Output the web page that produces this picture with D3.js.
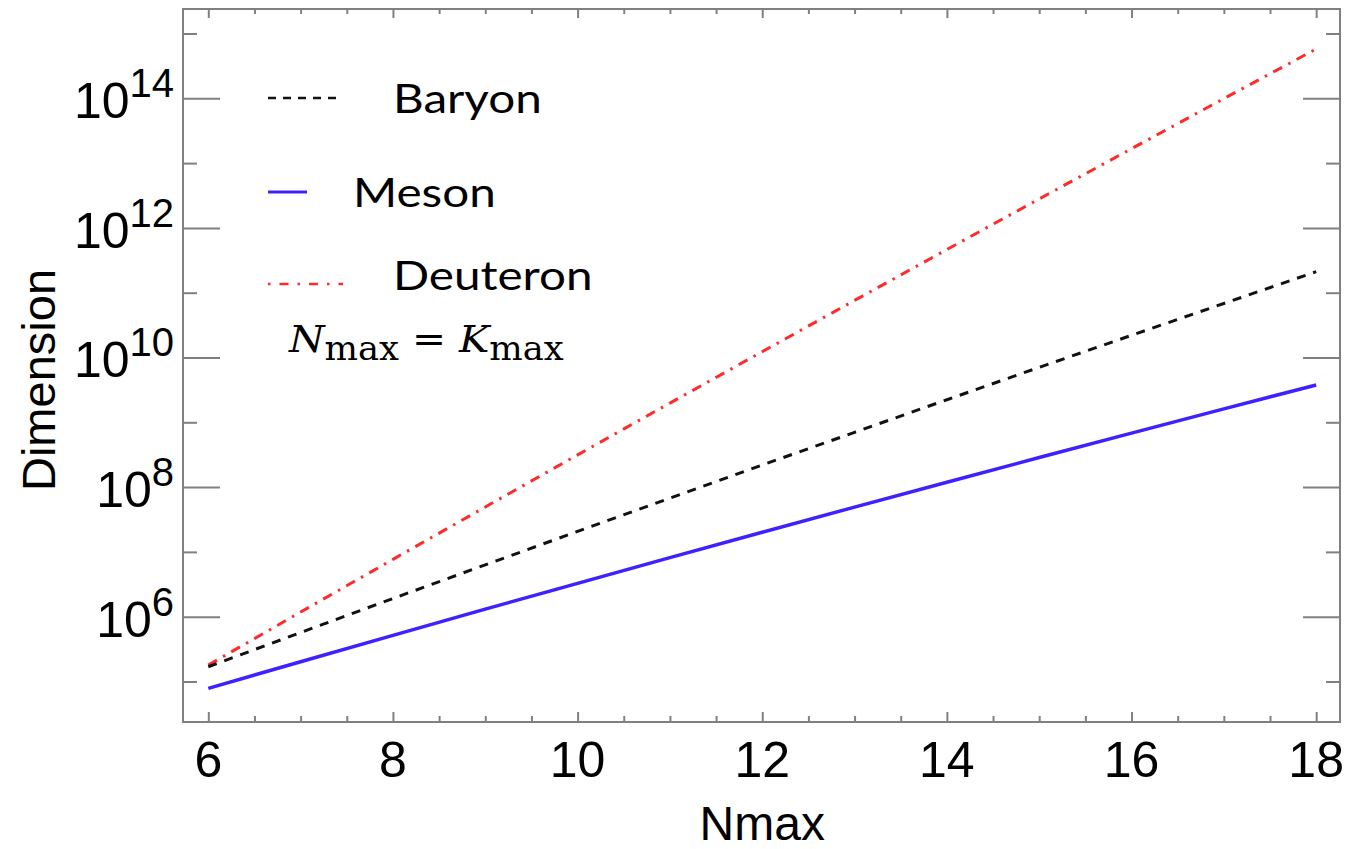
<!DOCTYPE html>
<html>
<head>
<meta charset="utf-8">
<script src="https://cdn.jsdelivr.net/npm/d3@7"></script>
<style>
  body { margin: 0; background: #fff; }
  text { fill: #000; }
</style>
</head>
<body>
<div id="container"></div>
<script>
// values (dimension vs Nmax, log scale)
const nmax = [6, 7, 8, 9, 10, 11, 12, 13, 14, 15, 16, 17, 18];
const meson = [7.85e4, 2.02e5, 5.15e5, 1.31e6, 3.27e6, 8.15e6, 2.01e7, 4.91e7, 1.19e8, 2.86e8, 6.81e8, 1.61e9, 3.77e9];
const baryon = [1.69e5, 5.7e5, 1.91e6, 6.31e6, 2.07e7, 6.76e7, 2.19e8, 7.01e8, 2.23e9, 7.05e9, 2.2e10, 6.82e10, 2.11e11];
const deuteron = [1.79e5, 1.18e6, 7.67e6, 4.93e7, 3.14e8, 1.98e9, 1.23e10, 7.6e10, 4.64e11, 2.8e12, 1.67e13, 9.89e13, 5.77e14];

const xTicks = [6, 8, 10, 12, 14, 16, 18];
const yExponents = [6, 8, 10, 12, 14];
const yMinorExponents = [5, 7, 9, 11, 13, 15];

const legendNames = ["Baryon", "Meson", "Deuteron"];

// set the dimensions and margins of the graph
var margin = { top: 9, right: 8, bottom: 127, left: 183 },
  width = 1348 - margin.left - margin.right,
  height = 849 - margin.top - margin.bottom;

var svg = d3
  .select("#container")
  .append("svg")
  .attr("width", width + margin.left + margin.right)
  .attr("height", height + margin.top + margin.bottom)
  .append("g")
  .attr("transform", "translate(" + margin.left + "," + margin.top + ")");

var x = d3.scaleLinear().domain([5.726, 18.258]).range([0, width]);
var y = d3.scaleLog().domain([Math.pow(10, 4.375), Math.pow(10, 15.378)]).range([height, 0]);

var frameColor = "#808080";

// minor x ticks every 0.5
var xMinor = d3.range(6, 18.01, 0.5).filter((v) => v % 2 !== 0);

function styleAxis(g) {
  g.select(".domain").remove();
  g.selectAll("line").attr("stroke", frameColor).attr("stroke-width", 2);
}

// bottom axis
svg.append("g")
  .attr("transform", "translate(0," + height + ")")
  .call(d3.axisBottom(x).tickValues(xTicks).tickSize(-10).tickFormat(""))
  .call(styleAxis);
svg.append("g")
  .attr("transform", "translate(0," + height + ")")
  .call(d3.axisBottom(x).tickValues(xMinor).tickSize(-6).tickFormat(""))
  .call(styleAxis);
// top axis
svg.append("g")
  .call(d3.axisTop(x).tickValues(xTicks).tickSize(-9).tickFormat(""))
  .call(styleAxis);
svg.append("g")
  .call(d3.axisTop(x).tickValues(xMinor).tickSize(-5).tickFormat(""))
  .call(styleAxis);

var yMajor = yExponents.map((e) => Math.pow(10, e));
var yMinor = yMinorExponents.map((e) => Math.pow(10, e));

// left axis
svg.append("g")
  .call(d3.axisLeft(y).tickValues(yMajor).tickSize(-37).tickFormat(""))
  .call(styleAxis);
svg.append("g")
  .call(d3.axisLeft(y).tickValues(yMinor).tickSize(-14).tickFormat(""))
  .call(styleAxis);
// right axis
svg.append("g")
  .attr("transform", "translate(" + width + ",0)")
  .call(d3.axisRight(y).tickValues(yMajor).tickSize(-37).tickFormat(""))
  .call(styleAxis);
svg.append("g")
  .attr("transform", "translate(" + width + ",0)")
  .call(d3.axisRight(y).tickValues(yMinor).tickSize(-14).tickFormat(""))
  .call(styleAxis);

// frame
svg.append("rect")
  .attr("x", 0)
  .attr("y", 0)
  .attr("width", width)
  .attr("height", height)
  .attr("fill", "none")
  .attr("stroke", frameColor)
  .attr("stroke-width", 2);

// x tick labels
svg.selectAll(".xlab")
  .data(xTicks)
  .enter()
  .append("text")
  .attr("class", "xlab")
  .attr("x", (d) => x(d))
  .attr("y", height + 55)
  .attr("text-anchor", "middle")
  .style("font-family", "Liberation Sans, Arial, sans-serif")
  .style("font-size", "50px")
  .text((d) => d);

// y tick labels 10^n
var ylab = svg.selectAll(".ylab")
  .data(yExponents)
  .enter()
  .append("text")
  .attr("class", "ylab")
  .attr("x", -9)
  .attr("y", (d) => y(Math.pow(10, d)) + 20)
  .attr("text-anchor", "end")
  .style("font-family", "Liberation Sans, Arial, sans-serif")
  .style("font-size", "50px");
ylab.append("tspan").text("10");
ylab.append("tspan")
  .attr("dy", -21)
  .style("font-size", "40px")
  .text((d) => d);

// axis titles
svg.append("text")
  .attr("text-anchor", "middle")
  .attr("x", x(12))
  .attr("y", height + 118)
  .style("font-family", "Liberation Sans, Arial, sans-serif")
  .style("font-size", "48px")
  .text("Nmax");

svg.append("text")
  .attr("text-anchor", "middle")
  .attr("transform", "translate(" + (55 - margin.left) + "," + (380 - margin.top) + ") rotate(-90)")
  .style("font-family", "Liberation Sans, Arial, sans-serif")
  .style("font-size", "47px")
  .text("Dimension");

// series
var series = [
  { name: "Deuteron", values: deuteron, color: "#ff2a2a", width: 3, dash: "10,7,2.5,7" },
  { name: "Baryon", values: baryon, color: "#111111", width: 3, dash: "9,8" },
  { name: "Meson", values: meson, color: "#3d22ff", width: 3.5, dash: null },
];

var line = d3.line()
  .x((d) => x(d[0]))
  .y((d) => y(d[1]));

svg.selectAll(".line")
  .data(series)
  .enter()
  .append("path")
  .classed("line", true)
  .attr("fill", "none")
  .attr("stroke", (d) => d.color)
  .attr("stroke-width", (d) => d.width)
  .attr("stroke-dasharray", (d) => d.dash)
  .attr("d", (d) => line(nmax.map((n, i) => [n, d.values[i]])));

// legend (page coordinates)
var legend = svg.append("g").attr("transform", "translate(" + -margin.left + "," + -margin.top + ")");
var legendRows = [
  { s: series[1], y: 98, x1: 268, x2: 343, tx: 393, ty: 113 },
  { s: series[2], y: 192, x1: 268, x2: 307, tx: 353, ty: 207 },
  { s: series[0], y: 284, x1: 268, x2: 343, tx: 393, ty: 290 },
];
legendRows.forEach(function (r, i) {
  legend.append("line")
    .attr("x1", r.x1)
    .attr("x2", r.x2)
    .attr("y1", r.y)
    .attr("y2", r.y)
    .attr("stroke", r.s.color)
    .attr("stroke-width", r.s.dash ? 2.5 : 3)
    .attr("stroke-dasharray", r.s.name == "Deuteron" ? "2.5,9,9,9" : r.s.dash ? "8,7" : null);
  // the reference text is wide, so stretch it horizontally
  legend.append("text")
    .attr("transform", "translate(" + r.tx + "," + r.ty + ") scale(1.19,1)")
    .style("font-family", "Lato, Carlito, sans-serif")
    .style("font-size", "40px")
    .text(legendNames[i]);
});

// N_max = K_max
var eq = legend.append("text")
  .attr("transform", "translate(289,352) scale(1.07,1)")
  .style("font-family", "DejaVu Serif, Liberation Serif, serif")
  .style("font-size", "38px");
eq.append("tspan").style("font-style", "italic").text("N");
eq.append("tspan").attr("dy", 8).style("font-size", "33px").text("max");
eq.append("tspan").attr("dy", -8).text(" = ");
eq.append("tspan").style("font-style", "italic").text("K");
eq.append("tspan").attr("dy", 8).style("font-size", "33px").text("max");
</script>
</body>
</html>
